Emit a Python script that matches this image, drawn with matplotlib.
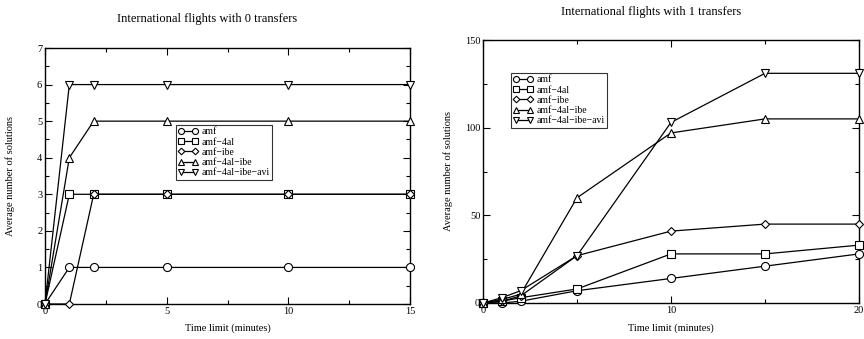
import matplotlib
matplotlib.use("Agg")
import matplotlib.pyplot as plt
from matplotlib.ticker import MultipleLocator

plt.rcParams['font.family'] = ['Liberation Serif', 'DejaVu Serif']

labels = ["amf", "amf\u22124al", "amf\u2212ibe", "amf\u22124al\u2212ibe", "amf\u22124al\u2212ibe\u2212avi"]
markers = ["o", "s", "D", "^", "v"]
msizes = [5.8, 5.2, 4.5, 6.2, 6.2]

# 0 transfers
t0 = [0, 1, 2, 5, 10, 15]
amf_0 = [0, 1, 1, 1, 1, 1]
amf4al_0 = [0, 3, 3, 3, 3, 3]
amfibe_0 = [0, 0, 3, 3, 3, 3]
amf4alibe_0 = [0, 4, 5, 5, 5, 5]
amf4alibeavi_0 = [0, 6, 6, 6, 6, 6]

# 1 transfers
t1 = [0, 1, 2, 5, 10, 15, 20]
amf_1 = [0, 0, 1, 7, 14, 21, 28]
amf4al_1 = [0, 1, 3, 8, 28, 28, 33]
amfibe_1 = [0, 1, 4, 27, 41, 45, 45]
amf4alibe_1 = [0, 2, 5, 60, 97, 105, 105]
amf4alibeavi_1 = [0, 3, 7, 27, 103, 131, 131]

fig = plt.figure(figsize=(8.64, 3.39), dpi=100)
# axes boxes in pixels: left, bottom, width, height
box1 = (45, 304, 365, 256)
box2 = (483, 303, 376, 263)
ax1 = fig.add_axes([box1[0]/864, 1-box1[1]/339, box1[2]/864, box1[3]/339])
ax2 = fig.add_axes([box2[0]/864, 1-box2[1]/339, box2[2]/864, box2[3]/339])


def draw(ax, box, t, series, xmax, ymax, xmaj, xmin, ymaj, ymin, title, title_pos,
         leg_px, ylab_x):
    for ys, lab, m, ms in zip(series, labels, markers, msizes):
        ax.plot(t, ys, color="black", lw=0.9, marker=m, ms=ms, mfc="white",
                mec="black", mew=0.8, label=lab, clip_on=False, zorder=3)
    ax.set_xlim(0, xmax)
    ax.set_ylim(0, ymax)
    ax.xaxis.set_major_locator(MultipleLocator(xmaj))
    ax.xaxis.set_minor_locator(MultipleLocator(xmin))
    ax.yaxis.set_major_locator(MultipleLocator(ymaj))
    ax.yaxis.set_minor_locator(MultipleLocator(ymin))
    ax.tick_params(which="both", direction="in", top=True, right=True,
                   labelsize=7.5, pad=2, width=0.8)
    ax.tick_params(which="major", length=5)
    ax.tick_params(which="minor", length=3)
    for s in ax.spines.values():
        s.set_linewidth(1.0)
    ax.set_xlabel("Time limit (minutes)", fontsize=7.5)
    ax.set_ylabel("Average number of solutions", fontsize=7.5)
    ax.xaxis.set_label_coords(0.5, (box[1]-323)/box[3])
    ax.yaxis.set_label_coords((ylab_x-box[0])/box[2], 0.5)
    fig.text(title_pos[0], title_pos[1], title, fontsize=9, ha="center", va="center")
    leg = ax.legend(loc="upper left",
                    bbox_to_anchor=((leg_px[0]-box[0])/box[2], (box[1]-leg_px[1])/box[3]),
                    numpoints=2, fontsize=7, frameon=True, fancybox=False,
                    edgecolor="black", borderpad=0.25, labelspacing=0.12,
                    handlelength=2.0, handletextpad=0.4, borderaxespad=0,
                    markerscale=0.75)
    leg.get_frame().set_linewidth(0.8)


draw(ax1, box1, t0, [amf_0, amf4al_0, amfibe_0, amf4alibe_0, amf4alibeavi_0],
     15, 7, 5, 2.5, 1, 0.5, "International flights with 0 transfers",
     (207/864, 1-19/339), (176, 125), 15)
draw(ax2, box2, t1, [amf_1, amf4al_1, amfibe_1, amf4alibe_1, amf4alibeavi_1],
     20, 150, 10, 5, 50, 25, "International flights with 1 transfers",
     (651/864, 1-12/339), (511, 73), 453)

fig.savefig("out.png", dpi=100)
